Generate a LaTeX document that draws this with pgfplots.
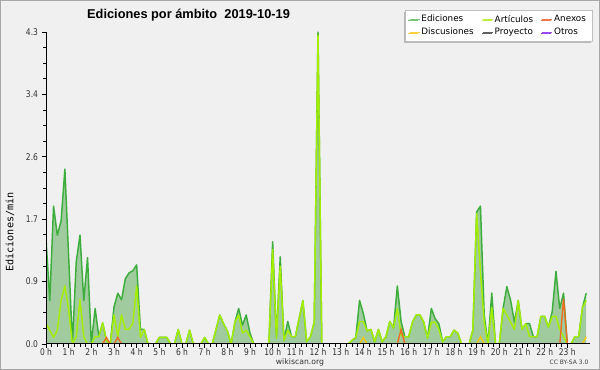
\documentclass[border=0pt]{standalone}
\usepackage{fontspec}
\setmainfont{DejaVu Sans}
\newfontfamily\titlefont{Liberation Sans}
\newfontfamily\tickfont[FakeStretch=0.82]{DejaVu Sans}
\newfontfamily\labfont{DejaVu Sans Mono}
\usepackage{pgfplots}
\pgfplotsset{compat=1.18}
\usepackage{pgfplotstable}
\usetikzlibrary{shadows}

\definecolor{bgout}{HTML}{F0F0F0}
\definecolor{bgplot}{HTML}{EEEFF1}
\definecolor{framec}{HTML}{A8A8A8}
\definecolor{gridc}{HTML}{C8C8C8}
\definecolor{edline}{HTML}{3DAE3D}
\definecolor{edfill}{HTML}{9FCB9F}
\definecolor{edleg}{HTML}{74C874}
\definecolor{artline}{HTML}{A6EE00}
\definecolor{artleg}{HTML}{BCEE40}
\definecolor{anxline}{HTML}{F06A20}
\definecolor{anxleg}{HTML}{F07848}
\definecolor{disline}{HTML}{F4C800}
\definecolor{disleg}{HTML}{F8D040}
\definecolor{proleg}{HTML}{606060}
\definecolor{otrleg}{HTML}{9A48F0}

\pgfplotsset{
  layers/mylayers/.define layer set={
    axis background,axis grid,main,axis ticks,axis lines,axis tick labels,axis descriptions,axis foreground
  }{
    grid style={/pgfplots/on layer=axis grid},
    tick style={/pgfplots/on layer=axis ticks},
    axis line style={/pgfplots/on layer=axis lines},
    label style={/pgfplots/on layer=axis descriptions},
    legend style={/pgfplots/on layer=axis descriptions},
    title style={/pgfplots/on layer=axis descriptions},
    colorbar style={/pgfplots/on layer=axis descriptions},
    ticklabel style={/pgfplots/on layer=axis tick labels},
    axis background@ style={/pgfplots/on layer=axis background},
    3d box foreground style={/pgfplots/on layer=axis foreground},
  },
}

\pgfplotstableread{
i ed art
0 1.45 0.28
1 0.60 0.19
2 1.90 0.09
3 1.50 0.19
4 1.70 0.60
5 2.41 0.80
6 1.20 0.47
7 0.00 0.00
8 1.13 0.10
9 1.50 0.61
10 0.60 0.10
11 1.19 0.00
12 0.00 0.00
13 0.49 0.10
14 0.10 0.10
15 0.29 0.29
16 0.05 0.05
17 0.00 0.00
18 0.51 0.40
19 0.70 0.10
20 0.61 0.40
21 0.90 0.20
22 0.98 0.20
23 1.01 0.29
24 1.09 0.80
25 0.20 0.09
26 0.20 0.20
27 0 0
28 0 0
29 0 0
30 0.09 0.09
31 0.09 0.09
32 0.09 0.09
33 0 0
34 0 0
35 0.20 0.20
36 0 0
37 0 0
38 0.19 0.19
39 0 0
40 0 0
41 0 0
42 0.09 0.09
43 0 0
44 0 0
45 0.20 0.20
46 0.40 0.40
47 0.28 0.28
48 0.18 0.18
49 0 0
50 0.30 0.30
51 0.49 0.40
52 0.26 0.15
53 0.40 0.19
54 0.15 0.10
55 0 0
56 0 0
57 0 0
58 0 0
59 0 0
60 1.41 1.30
61 0.08 0.08
62 1.20 1.07
63 0.05 0.05
64 0.31 0.19
65 0.10 0.10
66 0.10 0.10
67 0.35 0.35
68 0.60 0.60
69 0.03 0.03
70 0.10 0.10
71 0.30 0.30
72 4.30 4.26
73 0 0
74 0 0
75 0 0
76 0 0
77 0 0
78 0 0
79 0 0
80 0 0
81 0.05 0.05
82 0.09 0.09
83 0.60 0.31
84 0.42 0.31
85 0.18 0.18
86 0.20 0.20
87 0.03 0.03
88 0.20 0.20
89 0.03 0.03
90 0.10 0.10
91 0.31 0.31
92 0.22 0.22
93 0.80 0.49
94 0.31 0.12
95 0.10 0.10
96 0.10 0.10
97 0.30 0.30
98 0.40 0.40
99 0.40 0.40
100 0.30 0.30
101 0.08 0.08
102 0.49 0.30
103 0.35 0.30
104 0.28 0.20
105 0.03 0.03
106 0.10 0.10
107 0.10 0.10
108 0.19 0.19
109 0.15 0.15
110 0 0
111 0 0
112 0 0
113 0.19 0.19
114 1.82 1.80
115 1.90 1.00
116 0.40 0.30
117 0 0
118 0.70 0.50
119 0 0
120 0 0
121 0.49 0.49
122 0.79 0.40
123 0.60 0.30
124 0.30 0.20
125 0.60 0.60
126 0.20 0.20
127 0.28 0.28
128 0.28 0.10
129 0.10 0.10
130 0.10 0.10
131 0.38 0.38
132 0.38 0.38
133 0.23 0.23
134 0.45 0.38
135 1.00 0.38
136 0.49 0.20
137 0.70 0.10
138 0 0
139 0 0
140 0.10 0.10
141 0.10 0.10
142 0.50 0.50
143 0.70 0.60
}\data

\begin{document}
\begin{tikzpicture}
\fill[bgout] (0pt,0pt) rectangle (450pt,277.5pt);
\draw[framec, line width=0.75pt] (0.375pt,0.375pt) rectangle (449.625pt,277.125pt);
\begin{axis}[
  set layers=mylayers,
  at={(34.5pt,19.5pt)}, anchor=south west,
  scale only axis, width=408pt, height=234pt,
  xmin=0, xmax=24, ymin=0, ymax=4.3,
  axis lines*=left,
  axis line style={black, line width=0.75pt},
  axis background/.style={fill=bgplot},
  clip=true,
  xtick={0,1,...,23},
  xticklabels={0 h,1 h,2 h,3 h,4 h,5 h,6 h,7 h,8 h,9 h,10 h,11 h,12 h,13 h,14 h,15 h,16 h,17 h,18 h,19 h,20 h,21 h,22 h,23 h},
  minor x tick num=3,
  ytick={0,0.86,1.72,2.58,3.44,4.3},
  yticklabels={0.0,0.9,1.7,2.6,3.4,4.3},
  minor y tick num=3,
  tick align=outside,
  major tick length=3pt,
  minor tick length=2.2pt,
  tick style={black, line width=0.6pt},
  ymajorgrids,
  grid style={gridc, line width=0.75pt},
  /pgf/number format/assume math mode=true,
  ticklabel style={font=\tickfont\fontsize{6.9}{8}\selectfont, text=black!80},
  xticklabel style={yshift=3pt},
  yticklabel style={xshift=0.5pt},
  legend columns=3,
  legend cell align=left,
  legend image code/.code={\draw[#1] (0pt,0pt) -- (7.5pt,0pt);},
  legend style={at={(1.0055,1.0705)}, anchor=north east, draw=black!25, line width=0.6pt, fill=white,
    general shadow={shadow xshift=-1pt, shadow yshift=-1pt, fill=black!28},
    font=\fontsize{6.6}{7.5}\selectfont, inner xsep=3pt, inner ysep=1.5pt, row sep=-1.2pt,
    /tikz/every even column/.append style={column sep=4.5pt},
    /tikz/every odd column/.append style={column sep=-1pt}},
]
\addplot[fill=edfill, draw=none, forget plot] table[x expr=\thisrow{i}/6, y=ed] {\data} \closedcycle;
\addplot[edline, line width=1.1pt, line join=round, forget plot] table[x expr=\thisrow{i}/6, y=ed] {\data};
\addplot[artline, line width=1.1pt, line join=round, forget plot] table[x expr=\thisrow{i}/6, y=art] {\data};
% Anexos
\addplot[anxline, line width=1pt, forget plot] coordinates {(2.5,0) (2.6667,0.09) (2.8333,0)};
\addplot[anxline, line width=1pt, forget plot] coordinates {(3,0) (3.1667,0.09) (3.3333,0)};
\addplot[anxline, line width=1pt, forget plot] coordinates {(15.5,0) (15.6667,0.2) (15.8333,0)};
\addplot[anxline, line width=1pt, forget plot] coordinates {(22.6667,0) (22.8333,0.62) (23,0)};
% Discusiones
\addplot[disline, line width=1pt, forget plot] coordinates {(13.8333,0) (14,0.09) (14.1667,0)};
\addplot[disline, line width=1pt, forget plot] coordinates {(19,0) (19.1667,0.1) (19.3333,0)};
\addplot[disline, line width=1pt, forget plot] coordinates {(23.6667,0) (23.8333,0.1)};
% legend
\addlegendimage{edleg, line width=0.8pt}
\addlegendentry{Ediciones}
\addlegendimage{artleg, line width=0.8pt}
\addlegendentry{Artículos}
\addlegendimage{anxleg, line width=0.8pt}
\addlegendentry{Anexos}
\addlegendimage{disleg, line width=0.8pt}
\addlegendentry{Discusiones}
\addlegendimage{proleg, line width=0.8pt}
\addlegendentry{Proyecto}
\addlegendimage{otrleg, line width=0.8pt}
\addlegendentry{Otros}
\end{axis}
\node[anchor=base, font=\titlefont\bfseries\fontsize{9.6}{11}\selectfont] at (141.4pt,263.25pt) {Ediciones por ámbito\ \ 2019-10-19};
\node[rotate=90, font=\labfont\fontsize{7.6}{9}\selectfont] at (7.5pt,103.5pt) {Ediciones/min};
\node[font=\fontsize{5.8}{7}\selectfont, text=black!80] at (225pt,5.8pt) {wikiscan.org};
\node[font=\fontsize{4.5}{5.5}\selectfont, text=black!75] at (426.75pt,5.4pt) {CC BY-SA 3.0};
\pgfresetboundingbox
\path[use as bounding box] (0pt,0pt) rectangle (450pt,277.5pt);
\end{tikzpicture}
\end{document}
